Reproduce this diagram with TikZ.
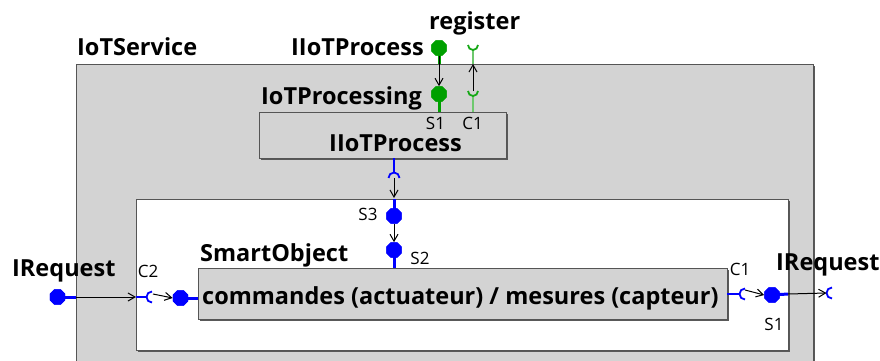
\documentclass[tikz,border=0pt]{standalone}
\usepackage{fontspec}
\setmainfont{Open Sans}
\usetikzlibrary{arrows.meta,shapes.geometric,shadows}
\definecolor{boxgray}{RGB}{211,211,211}
\definecolor{edgegray}{RGB}{85,85,85}
\definecolor{pgreen}{RGB}{0,160,0}
\definecolor{lgreen}{RGB}{110,200,110}
\definecolor{pblue}{RGB}{0,0,255}
\begin{document}
\begin{tikzpicture}[x=1pt,y=-1pt,
  lbl/.style={font=\fontsize{23.5}{25}\selectfont\bfseries, inner sep=0pt, anchor=base west},
  sm/.style={font=\fontsize{17}{19}\selectfont, inner sep=0pt},
  boxn/.style={draw=edgegray, line width=0.8pt, anchor=north west, inner sep=0pt,
     drop shadow={shadow xshift=1.3pt, shadow yshift=-1.3pt, fill=black!65, opacity=1}},
  portg/.style={regular polygon, regular polygon sides=8, fill=pgreen, draw=none, minimum size=16.5pt, inner sep=0pt},
  portb/.style={regular polygon, regular polygon sides=8, fill=pblue, draw=none, minimum size=16.5pt, inner sep=0pt},
  thickg/.style={draw=pgreen, line width=3pt},
  thickb/.style={draw=pblue, line width=3pt},
  thing/.style={draw=lgreen, line width=1.3pt},
  thinb/.style={draw=pblue, line width=1.1pt},
  sockg/.style={draw=pgreen!80!lgreen, line width=1.8pt},
  sockb/.style={draw=pblue, line width=1.8pt},
  arr/.style={draw=black, line width=1pt, -{Straight Barb[length=7pt,width=8pt]}},
]
\useasboundingbox (0,0) rectangle (880,361);
\fill[white] (0,0) rectangle (880,361);

% boxes
\node[boxn, fill=boxgray, minimum width=737pt, minimum height=320pt] (svc) at (76,64) {};
\node[boxn, fill=boxgray, minimum width=247pt, minimum height=46pt] (proc) at (259,112) {};
\node[boxn, fill=white, minimum width=652pt, minimum height=151pt] (wbox) at (136,199) {};
\node[boxn, fill=boxgray, minimum width=529pt, minimum height=51pt] (smart) at (198,268) {};

% labels
\node[lbl] (tsvc) at (77,56) {IoTService};
\node[lbl] (tproc) at (261,104) {IoTProcessing};
\node[lbl] (tiiot) at (291,56) {IIoTProcess};
\node[lbl] (treg) at (429,30) {register};
\node[lbl, anchor=base] (tin) at (395.5,151.5) {IIoTProcess};
\node[lbl] (tsmart) at (200,261) {SmartObject};
\node[lbl] (tcmd) at (202,304) {commandes (actuateur) / mesures (capteur)};
\node[lbl] (treqL) at (12,276) {IRequest};
\node[lbl] (treqR) at (776,270) {IRequest};
\node[sm] (ls1) at (435.5,123.5) {S1};
\node[sm] (lc1) at (472.5,123.5) {C1};
\node[sm] (ls3) at (368,214) {S3};
\node[sm] (ls2) at (420,258) {S2};
\node[sm] (lc2) at (148,271) {C2};
\node[sm] (lc1r) at (740,269) {C1};
\node[sm] (ls1r) at (774,324) {S1};

% coordinates
\coordinate (gtop) at (439,64);
\coordinate (gbot) at (439,112);
\coordinate (gso) at (473,45);
\coordinate (gsi) at (473,91);
\coordinate (gsb) at (473,64);
\coordinate (gsp) at (473,112);
\coordinate (msk) at (394,178);
\coordinate (mtop) at (394,158);
\coordinate (mwb) at (394,198);
\coordinate (mwt) at (394,199);
\coordinate (msb) at (394,268);
\coordinate (lbnd) at (76,297);
\coordinate (lwb) at (136,297);
\coordinate (c2sk) at (152,297);
\coordinate (lsm) at (198,298);
\coordinate (rsm) at (727,294);
\coordinate (c1sk) at (745,294);
\coordinate (rwb) at (788,294);
\coordinate (rsk) at (832,293);

% ports (named)
\node[portg] (pgo) at (439,48) {};
\node[portg] (pgi) at (439,94) {};
\node[portb] (pl) at (57.5,297) {};
\node[portb] (pl2) at (180.5,298) {};
\node[portb] (pr) at (772,295) {};
\node[portb] (ps3) at (394,216) {};
\node[portb] (ps2) at (394,250) {};

% thick port lines
\draw[thickg] (pgo.center) -- (gtop);
\draw[thickg] (pgi.center) -- (gbot);
\draw[thickb] (pl.center) -- (lbnd);
\draw[thickb] (pl2.center) -- (lsm);
\draw[thickb] (pr.center) -- (rwb);
\draw[thickb] (mwt) -- (ps3.center);
\draw[thickb] (ps2.center) -- (msb);

% sockets
\draw[thing] ([yshift=-5pt]gso) -- (gsb);
\draw[sockg] ([xshift=-5pt]gso) arc[start angle=180, end angle=360, radius=5pt];
\draw[thing] ([yshift=-5pt]gsi) -- (gsp);
\draw[sockg] ([xshift=-5pt]gsi) arc[start angle=180, end angle=360, radius=5pt];
\draw[thinb] (mtop) -- ([yshift=5.5pt]msk);
\draw[sockb] ([xshift=-5.5pt]msk) arc[start angle=180, end angle=0, radius=5.5pt];
\draw[thinb] (lwb) -- ([xshift=-5.5pt]c2sk);
\draw[sockb] ([yshift=5.5pt]c2sk) arc[start angle=90, end angle=270, radius=5.5pt];
\draw[thinb] (rsm) -- ([xshift=-5.5pt]c1sk);
\draw[sockb] ([yshift=5.5pt]c1sk) arc[start angle=90, end angle=270, radius=5.5pt];
\draw[sockb] ([yshift=5.5pt]rsk) arc[start angle=90, end angle=270, radius=5.5pt];

% ports on top of lines
\node[portg] at (pgo) {};
\node[portg] at (pgi) {};
\node[portb] at (pl) {};
\node[portb] at (pl2) {};
\node[portb] at (pr) {};
\node[portb] at (ps3) {};
\node[portb] at (ps2) {};

% connectors
\draw[arr] (pgo.south) -- (pgi.north);
\draw[arr] (gsi) -- (gsb);
\draw[arr] (msk) -- (mwb);
\draw[arr] (ps3.south) -- (ps2.north);
\draw[arr] (lbnd) -- (lwb);
\draw[arr] ([xshift=1pt,yshift=3pt]c2sk) -- (pl2.west);
\draw[arr] ([yshift=4pt]c1sk) -- (pr.west);
\draw[arr] (rwb) -- ([xshift=-5.5pt]rsk);
\end{tikzpicture}
\end{document}
